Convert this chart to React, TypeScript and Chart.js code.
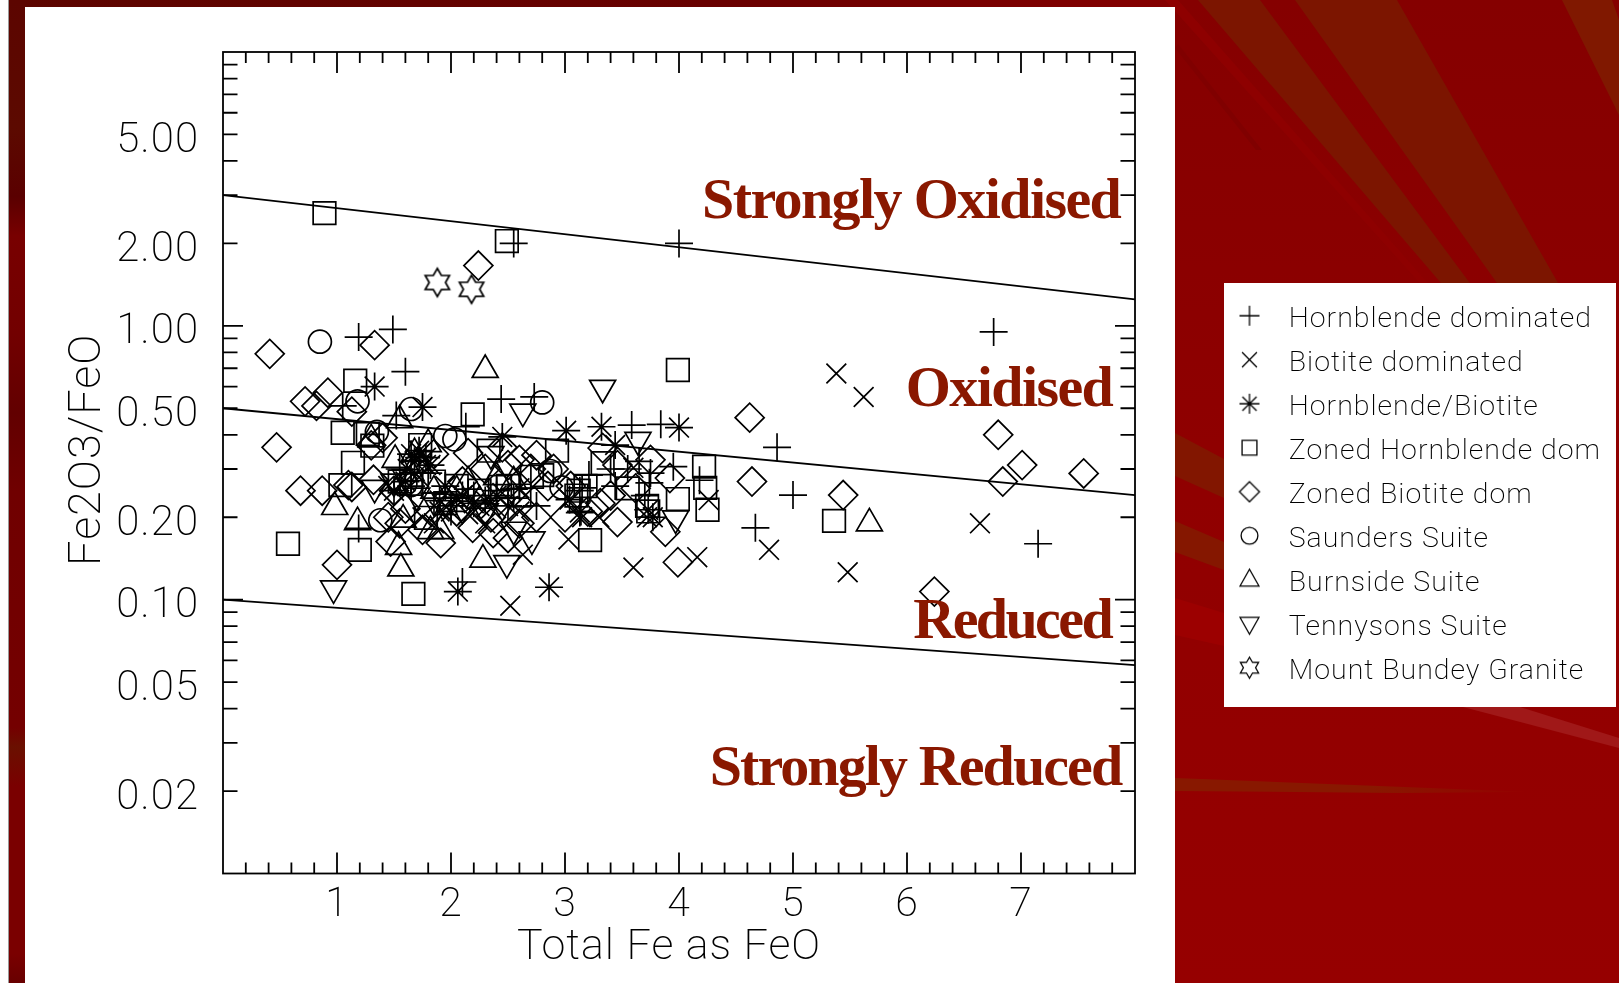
import React, { useEffect, useRef } from "react";
import { Chart, registerables } from "chart.js";

Chart.register(...registerables);

const hornblendeX = [2.55,4.0,1.19,1.49,1.6,2.44,2.73,6.76,3.585,3.84,4.86,5.0,4.67,7.15,3.95,4.18,3.74,3.21,3.44,3.15,3.13,2.1,1.19,1.52,1.05,2.13,3.14,1.65,1.8,2.0,2.2,2.4,2.55,2.75,1.72,1.55,3.7,3.75,3.4,3.55,3.65];
const hornblendeY = [2.0,2.0,0.91,0.97,0.68,0.54,0.55,0.95,0.434,0.437,0.36,0.241,0.183,0.16,0.306,0.273,0.267,0.285,0.26,0.256,0.25,0.116,0.182,0.47,0.51,0.428,0.21,0.26,0.29,0.22,0.24,0.25,0.235,0.22,0.33,0.3,0.24,0.29,0.3,0.3,0.32];
const biotiteX = [5.38,5.62,3.6,4.16,4.79,5.48,3.03,4.26,3.6,6.64,2.52,2.63,3.72,1.75,1.85,1.9,2.05,2.15,2.25,2.35,2.45,2.6,2.65,1.62,1.72,1.78,3.15,3.3,1.45,2.3];
const biotiteY = [0.67,0.55,0.131,0.143,0.152,0.126,0.166,0.231,0.303,0.19,0.095,0.146,0.2,0.2,0.19,0.21,0.235,0.205,0.22,0.215,0.245,0.21,0.24,0.3,0.28,0.31,0.2,0.2,0.26,0.19];
const mixedX = [1.33,1.75,2.45,3.01,2.06,2.86,3.32,3.44,4.0,3.73,3.04,3.13,3.77,1.65,1.68,1.72,1.78,1.82,1.9,2.0,2.1,2.2,2.3,2.4,2.5,2.6,1.95,1.6,1.5];
const mixedY = [0.6,0.505,0.393,0.414,0.107,0.111,0.428,0.367,0.425,0.213,0.232,0.208,0.2,0.34,0.32,0.35,0.33,0.31,0.23,0.21,0.24,0.225,0.23,0.24,0.22,0.255,0.26,0.27,0.25];
const zonedHornX = [0.89,2.49,3.99,1.16,2.19,0.57,1.2,1.67,5.36,3.22,4.22,4.23,4.25,3.99,1.05,1.14,1.03,1.27,1.31,1.73,2.33,2.93,2.71,2.43,1.78,3.33,3.12,3.55,3.73,3.18,1.55,1.65,1.85,2.05,2.25,2.5,2.6,1.95,3.72,3.1,2.8];
const zonedHornY = [2.58,2.04,0.69,0.63,0.475,0.16,0.152,0.105,0.194,0.165,0.306,0.256,0.213,0.233,0.407,0.316,0.262,0.403,0.365,0.367,0.35,0.35,0.281,0.258,0.199,0.315,0.25,0.255,0.21,0.26,0.27,0.265,0.27,0.26,0.25,0.26,0.24,0.225,0.22,0.24,0.285];
const zonedBiotiteX = [0.41,2.24,1.33,0.72,0.82,0.92,0.47,0.68,0.87,1.1,1.0,1.91,4.62,4.64,5.44,6.8,6.84,7.01,7.55,6.24,3.99,3.88,3.46,3.31,3.92,3.62,3.75,3.33,3.46,1.13,1.3,1.32,1.13,1.47,2.19,2.37,2.5,2.6,2.75,2.15,1.4,1.5,1.6,1.85,2.45,2.9,3.05,2.1,2.35,2.6,2.75,2.05,1.45,1.55,1.75,3.4,2.3,2.5,2.7,2.85,3.0,3.2];
const zonedBiotiteY = [0.79,1.66,0.85,0.53,0.51,0.57,0.36,0.25,0.25,0.262,0.134,0.161,0.462,0.27,0.241,0.4,0.27,0.31,0.289,0.107,0.137,0.177,0.192,0.225,0.278,0.255,0.324,0.358,0.31,0.486,0.366,0.274,0.258,0.163,0.183,0.175,0.168,0.324,0.337,0.343,0.39,0.25,0.215,0.34,0.36,0.3,0.26,0.27,0.2,0.19,0.2,0.21,0.2,0.19,0.18,0.24,0.3,0.31,0.3,0.26,0.2,0.21];
const saundersX = [0.85,2.8,1.18,1.35,1.65,1.95,2.03,1.38,1.65,2.97,2.87,1.6];
const saundersY = [0.875,0.525,0.53,0.41,0.497,0.396,0.385,0.195,0.262,0.257,0.295,0.265];
const burnsideX = [2.3,5.67,0.98,1.18,1.54,1.56,2.28,1.58,1.51,1.3,1.82,1.91,1.55,1.68,1.72,1.8,1.65,1.85,2.05,2.15,2.25,2.4,2.55];
const burnsideY = [0.69,0.19,0.218,0.192,0.156,0.13,0.14,0.196,0.324,0.385,0.178,0.178,0.452,0.343,0.31,0.37,0.29,0.25,0.25,0.27,0.23,0.28,0.27];
const tennysonsX = [0.97,2.63,2.71,2.49,1.33,1.95,3.33,3.64,3.97,1.7,1.85,2.1,2.3,2.45,2.55,2.35,1.5,1.6];
const tennysonsY = [0.11,0.486,0.166,0.136,0.256,0.228,0.594,0.383,0.198,0.24,0.23,0.215,0.21,0.22,0.18,0.34,0.27,0.28];
const bundeyX = [1.88,2.18];
const bundeyY = [1.44,1.36];

const lineEndsX = [0, 8];
const strongLimit = [3.0, 1.25];
const oxidisedLimit = [0.5, 0.241];
const reducedLimit = [0.1, 0.0577];

const xTicks = [1, 2, 3, 4, 5, 6, 7];
const yTicks = [0.02, 0.05, 0.1, 0.2, 0.5, 1, 2, 5];
const yDecades = [0.1, 1];
const yMinor = [0.02,0.03,0.04,0.05,0.06,0.07,0.08,0.09,0.2,0.3,0.4,0.5,0.6,0.7,0.8,0.9,2,3,4,5,6,7,8,9];
const xMinor = [0.2,0.4,0.6,0.8,1.2,1.4,1.6,1.8,2.2,2.4,2.6,2.8,3.2,3.4,3.6,3.8,4.2,4.4,4.6,4.8,5.2,5.4,5.6,5.8,6.2,6.4,6.6,6.8,7.2,7.4,7.6,7.8];

const regionNames = ["Strongly Oxidised", "Oxidised", "Reduced", "Strongly Reduced"];
const regionX = [7.87, 7.8, 7.79, 7.88];
const regionY = [2.48, 0.51, 0.0724, 0.021];
const regionSpacing = ["-1.6px", "-1.6px", "-2.6px", "-1.9px"];

const seriesNames = ["Hornblende dominated","Biotite dominated","Hornblende/Biotite","Zoned Hornblende dom","Zoned Biotite dom","Saunders Suite","Burnside Suite","Tennysons Suite","Mount Bundey Granite"];

const INK = "#000000";
const TEXT_FONT = "Roboto, sans-serif";
const TEXT_WEIGHT = "200";

const zip = (xs: number[], ys: number[]) => xs.map((x, i) => ({ x, y: ys[i] }));

function markerCanvas(kind: string, r: number, lift: number) {
  const size = Math.ceil(r * 2 + 6);
  const c = document.createElement("canvas");
  c.width = size;
  c.height = size + Math.ceil(lift * 2);
  const g = c.getContext("2d")!;
  const cx = size / 2;
  const cy = c.height / 2 - lift;
  g.strokeStyle = INK;
  g.lineWidth = r < 12 ? 1.3 : 1.7;
  g.beginPath();
  const a = r * Math.SQRT1_2;
  if (kind === "cross") {
    g.moveTo(cx - r, cy); g.lineTo(cx + r, cy); g.moveTo(cx, cy - r); g.lineTo(cx, cy + r);
  } else if (kind === "x") {
    g.moveTo(cx - a, cy - a); g.lineTo(cx + a, cy + a); g.moveTo(cx + a, cy - a); g.lineTo(cx - a, cy + a);
  } else if (kind === "star") {
    g.moveTo(cx - r, cy); g.lineTo(cx + r, cy); g.moveTo(cx, cy - r); g.lineTo(cx, cy + r);
    g.moveTo(cx - a, cy - a); g.lineTo(cx + a, cy + a); g.moveTo(cx + a, cy - a); g.lineTo(cx - a, cy + a);
  } else if (kind === "square") {
    g.rect(cx - a, cy - a, 2 * a, 2 * a);
  } else if (kind === "diamond") {
    g.moveTo(cx, cy - r); g.lineTo(cx + r, cy); g.lineTo(cx, cy + r); g.lineTo(cx - r, cy); g.closePath();
  } else if (kind === "circle") {
    g.arc(cx, cy, r * 0.8, 0, Math.PI * 2);
  } else if (kind === "up" || kind === "down") {
    const s = kind === "up" ? 1 : -1;
    g.moveTo(cx, cy - s * r); g.lineTo(cx + r * 0.9, cy + s * r * 0.6); g.lineTo(cx - r * 0.9, cy + s * r * 0.6); g.closePath();
  } else {
    for (let i = 0; i < 12; i++) {
      const ang = (-90 + i * 30) * Math.PI / 180;
      const rad = i % 2 === 0 ? r : r * 0.58;
      const px = cx + Math.cos(ang) * rad;
      const py = cy + Math.sin(ang) * rad;
      if (i === 0) g.moveTo(px, py); else g.lineTo(px, py);
    }
    g.closePath();
  }
  g.stroke();
  return c;
}

const framePlugin = {
  id: "frame",
  beforeDraw(chart: any) {
    const { ctx } = chart;
    ctx.fillStyle = "#ffffff";
    ctx.fillRect(1224, 283, 392, 424);
    (ctx as any).letterSpacing = "1px";
  },
  afterDatasetsDraw(chart: any) {
    const { ctx, chartArea: a, scales } = chart;
    ctx.save();
    ctx.strokeStyle = INK;
    ctx.lineWidth = 1.8;
    ctx.strokeRect(a.left, a.top, a.right - a.left, a.bottom - a.top);
    const drawX = (v: number, len: number) => {
      const p = scales.x.getPixelForValue(v);
      ctx.beginPath();
      ctx.moveTo(p, a.bottom); ctx.lineTo(p, a.bottom - len);
      ctx.moveTo(p, a.top); ctx.lineTo(p, a.top + len);
      ctx.stroke();
    };
    const drawY = (v: number, len: number) => {
      const p = scales.y.getPixelForValue(v);
      ctx.beginPath();
      ctx.moveTo(a.left, p); ctx.lineTo(a.left + len, p);
      ctx.moveTo(a.right, p); ctx.lineTo(a.right - len, p);
      ctx.stroke();
    };
    xMinor.forEach((v) => drawX(v, 11));
    xTicks.forEach((v) => drawX(v, 21));
    yMinor.forEach((v) => drawY(v, 14.5));
    yDecades.forEach((v) => drawY(v, 20));

    ctx.fillStyle = "#8a1800";
    ctx.font = "bold 58px 'Liberation Serif', serif";
    ctx.textAlign = "right";
    ctx.textBaseline = "alphabetic";
    regionNames.forEach((name, i) => {
      (ctx as any).letterSpacing = regionSpacing[i];
      ctx.fillText(name, scales.x.getPixelForValue(regionX[i]), scales.y.getPixelForValue(regionY[i]));
    });
    (ctx as any).letterSpacing = "1px";
    ctx.restore();
  },
};

export default function App() {
  const ref = useRef<HTMLCanvasElement>(null);
  useEffect(() => {
    document.body.style.margin = "0";
    document.body.style.background = "#ffffff";
    const scatter = (i: number, xs: number[], ys: number[], style: any, radius: number, rotation = 0) => ({
      label: seriesNames[i],
      data: zip(xs, ys),
      showLine: false,
      pointStyle: style,
      pointRadius: radius,
      pointRotation: rotation,
      pointBorderColor: INK,
      pointBackgroundColor: "rgba(0,0,0,0)",
      pointBorderWidth: 1.7,
    });
    const limit = (name: string, ys: number[]) => ({
      label: name,
      data: zip(lineEndsX, ys),
      showLine: true,
      pointRadius: 0,
      borderColor: INK,
      borderWidth: 1.8,
    });
    const legendKinds = ["cross", "x", "star", "square", "diamond", "circle", "up", "down", "hexagram"];
    const chart = new Chart(ref.current!, {
      type: "scatter",
      data: {
        datasets: [
          limit("Strongly oxidised limit", strongLimit),
          limit("Oxidised limit", oxidisedLimit),
          limit("Reduced limit", reducedLimit),
          scatter(0, hornblendeX, hornblendeY, "cross", 14),
          scatter(1, biotiteX, biotiteY, "crossRot", 14),
          scatter(2, mixedX, mixedY, "star", 14),
          scatter(3, zonedHornX, zonedHornY, "rect", 16),
          scatter(4, zonedBiotiteX, zonedBiotiteY, "rectRot", 14.5),
          scatter(5, saundersX, saundersY, "circle", 11.5),
          scatter(6, burnsideX, burnsideY, "triangle", 15),
          scatter(7, tennysonsX, tennysonsY, "triangle", 15, 180),
          scatter(8, bundeyX, bundeyY, markerCanvas("hexagram", 14, 0), 14),
        ],
      },
      options: {
        animation: false,
        responsive: false,
        layout: { padding: { left: 0, top: 52, right: 484, bottom: 0 } },
        plugins: {
          tooltip: { enabled: false },
          legend: {
            display: true,
            position: "chartArea",
            align: "start",
            labels: {
              usePointStyle: true,
              pointStyleWidth: 50,
              padding: 15.5,
              color: INK,
              font: { family: TEXT_FONT, size: 28.5, weight: TEXT_WEIGHT },
              generateLabels: () =>
                seriesNames.map((text, i) => ({
                  text,
                  pointStyle: markerCanvas(legendKinds[i], i === 0 || i === 2 || i === 4 ? 10 : 10.5, 4),
                  fillStyle: "rgba(0,0,0,0)",
                  strokeStyle: INK,
                  lineWidth: 0,
                  rotation: 0,
                  hidden: false,
                  fontColor: INK,
                })),
            },
          },
        },
        scales: {
          x: {
            type: "linear",
            min: 0,
            max: 8,
            grid: { display: false, drawTicks: false },
            border: { display: false },
            afterFit: (s: any) => { s.height = 109.5; },
            afterBuildTicks: (s: any) => { s.ticks = xTicks.map((value) => ({ value })); },
            ticks: {
              autoSkip: false,
              maxRotation: 0,
              padding: 8,
              color: INK,
              font: { family: TEXT_FONT, size: 41, weight: TEXT_WEIGHT },
            },
            title: {
              display: true,
              text: "Total Fe as FeO",
              color: INK,
              padding: { top: 0, bottom: 9 },
              font: { family: TEXT_FONT, size: 43, weight: TEXT_WEIGHT },
            },
          },
          y: {
            type: "logarithmic",
            min: 0.01,
            max: 10,
            grid: { display: false, drawTicks: false },
            border: { display: false },
            afterFit: (s: any) => { s.width = 223; },
            afterBuildTicks: (s: any) => { s.ticks = yTicks.map((value) => ({ value })); },
            ticks: {
              autoSkip: false,
              padding: 24,
              labelOffset: 7,
              color: INK,
              font: { family: TEXT_FONT, size: 42, weight: TEXT_WEIGHT },
              callback: (v: any) => Number(v).toFixed(2),
            },
            title: {
              display: true,
              text: "Fe2O3/FeO",
              color: INK,
              padding: { top: 62, bottom: 0 },
              font: { family: TEXT_FONT, size: 45, weight: TEXT_WEIGHT },
            },
          },
        },
      },
      plugins: [
        framePlugin,
        {
          id: "placeLegend",
          afterLayout(c: any) {
            const l = c.legend;
            l.left = 1224.5 - 15.5;
            l.right = 1619;
            l.top = 290;
            l.bottom = 707;
            const sx = c.scales.x, sy = c.scales.y;
            const ox = sx.drawTitle, oy = sy.drawTitle;
            sx.drawTitle = function () { c.ctx.save(); c.ctx.translate(-10, 0); ox.call(this); c.ctx.restore(); };
            sy.drawTitle = function () { c.ctx.save(); c.ctx.translate(0, -13); oy.call(this); c.ctx.restore(); };
          },
        },
      ] as any,
    } as any);
    return () => chart.destroy();
  }, []);

  const polys: [string, string][] = [
    ["1198,0 1260,0 1475,290 1447,290", "#7c1500"],
    ["1295,0 1397,0 1562,290 1502,290", "#7c1500"],
    ["1562,0 1612,0 1619,20 1619,115", "#801800"],
    ["1175,433 1175,476 1224,498 1224,459", "#821600"],
    ["1175,521 1175,552 1224,570 1224,542", "#851700"],
    ["1175,598 1175,635 1224,646 1224,613", "#9c0000"],
    ["1463,707 1520,707 1619,738 1619,748", "#a01818"],
    ["1165,0 1178,0 1434,290 1426,290", "#8e0000"],
    ["1175,48 1178,44 1262,150 1256,150", "#800000"],
  ];

  return (
    <div style={{ position: "relative", width: 1619, height: 983, overflow: "hidden", background: "#ffffff" }}>
      <svg width={1619} height={983} style={{ position: "absolute", left: 0, top: 0 }}>
        <defs>
          <linearGradient id="base" x1="0" y1="0" x2="0" y2="1">
            <stop offset="0" stopColor="#850000" />
            <stop offset="0.5" stopColor="#900000" />
            <stop offset="1" stopColor="#960000" />
          </linearGradient>
          <linearGradient id="topBar" x1="0" y1="0" x2="1" y2="0">
            <stop offset="0" stopColor="#5c0500" />
            <stop offset="0.6" stopColor="#680000" />
            <stop offset="1" stopColor="#850000" />
          </linearGradient>
          <linearGradient id="leftBar" x1="0" y1="0" x2="0" y2="1">
            <stop offset="0" stopColor="#5c0500" />
            <stop offset="0.13" stopColor="#5c0a00" />
            <stop offset="0.2" stopColor="#5a0000" />
            <stop offset="0.24" stopColor="#780000" />
            <stop offset="0.34" stopColor="#720000" />
            <stop offset="0.42" stopColor="#620000" />
            <stop offset="0.5" stopColor="#700000" />
            <stop offset="0.74" stopColor="#740000" />
            <stop offset="0.76" stopColor="#6a1000" />
            <stop offset="0.8" stopColor="#7a0000" />
            <stop offset="0.97" stopColor="#7a0000" />
            <stop offset="1" stopColor="#680000" />
          </linearGradient>
          <linearGradient id="fade" x1="0" y1="0" x2="1" y2="0">
            <stop offset="0" stopColor="#881800" />
            <stop offset="0.55" stopColor="#881800" />
            <stop offset="1" stopColor="#960000" />
          </linearGradient>
        </defs>
        <rect x={8} y={0} width={1611} height={983} fill="url(#base)" />
        <rect x={8} y={0} width={1167} height={7} fill="url(#topBar)" />
        <rect x={8} y={0} width={17} height={983} fill="url(#leftBar)" />
        <rect x={8} y={0} width={1} height={983} fill="#9a9a9a" />
        {polys.map(([points, fill], i) => <polygon key={i} points={points} fill={fill} />)}
        <polygon points="1175,778 1175,791 1400,793 1533,792" fill="url(#fade)" />
        <rect x={25} y={7} width={1150} height={976} fill="#ffffff" />
      </svg>
      <canvas ref={ref} width={1619} height={983} style={{ position: "absolute", left: 0, top: 0, width: 1619, height: 983 }} />
    </div>
  );
}
